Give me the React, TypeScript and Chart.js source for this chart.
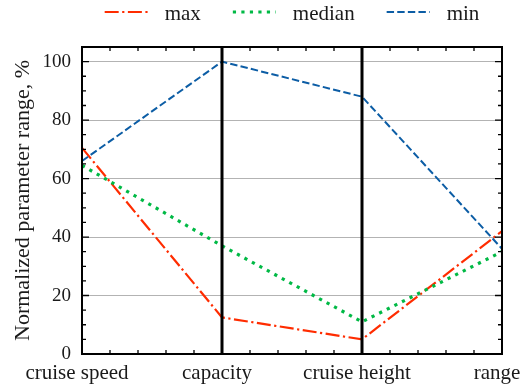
import { useEffect, useRef } from 'react';
import { Chart, registerables } from 'chart.js';

Chart.register(...registerables);

// ---- data ----
const categories = ['cruise speed', 'capacity', 'cruise height', 'range'];
const seriesNames = ['max', 'median', 'min'];
const maxValues = [70.5, 12.5, 5, 42];
const medianValues = [64.5, 37, 11, 35];
const minValues = [66, 100, 88, 36];
const yTickValues = [0, 20, 40, 60, 80, 100];
const yAxisTitle = 'Normalized parameter range, %';

const FONT = "'Liberation Serif', 'DejaVu Serif', serif";
const TEXT = '#1a1a1a';

const framePlugin = {
  id: 'frameTicks',
  afterDatasetsDraw(chart: any) {
    const { ctx, chartArea, scales } = chart;
    const { left, right, top, bottom } = chartArea;
    const x = scales.x;
    const y = scales.y;
    ctx.save();
    ctx.strokeStyle = '#000';
    ctx.lineWidth = 3;
    for (let i = 1; i < categories.length - 1; i++) {
      const px = x.getPixelForValue(i);
      ctx.beginPath();
      ctx.moveTo(px, top);
      ctx.lineTo(px, bottom);
      ctx.stroke();
    }
    ctx.lineWidth = 1.3;
    const yMax = y.max;
    for (let v = 0; v <= yMax + 1e-6; v += 5) {
      const py = y.getPixelForValue(v);
      const len = yTickValues.includes(v) ? 7 : 4;
      ctx.beginPath();
      ctx.moveTo(left, py);
      ctx.lineTo(left + len, py);
      ctx.moveTo(right, py);
      ctx.lineTo(right - len, py);
      ctx.stroke();
    }
    for (let k = 0; k <= (categories.length - 1) * 5; k++) {
      if (k % 5 === 0) continue;
      const px = x.getPixelForValue(k / 5);
      ctx.beginPath();
      ctx.moveTo(px, bottom);
      ctx.lineTo(px, bottom - 4);
      ctx.moveTo(px, top);
      ctx.lineTo(px, top + 4);
      ctx.stroke();
    }
    ctx.lineWidth = 2;
    ctx.strokeRect(left, top, right - left, bottom - top);
    ctx.restore();
  },
};

// legend drawn from the chart's datasets (line samples keep each dataset's dash pattern)
const legendPlugin = {
  id: 'lineLegend',
  afterDraw(chart: any) {
    const { ctx, chartArea } = chart;
    const datasets = chart.data.datasets;
    const lineLen = 43;
    const gap = 17;
    const itemGap = 32;
    const yLine = 12;
    const yText = 20;
    ctx.save();
    ctx.font = `21px ${FONT}`;
    const widths = datasets.map((d: any) => ctx.measureText(d.label).width);
    const total =
      widths.reduce((a: number, b: number) => a + b, 0) +
      datasets.length * (lineLen + gap) +
      (datasets.length - 1) * itemGap;
    let x = (chartArea.left + chartArea.right) / 2 - total / 2;
    datasets.forEach((d: any, i: number) => {
      ctx.save();
      ctx.strokeStyle = d.borderColor;
      ctx.lineWidth = d.borderWidth;
      ctx.setLineDash(d.borderDash || []);
      ctx.beginPath();
      ctx.moveTo(x, yLine);
      ctx.lineTo(x + lineLen, yLine);
      ctx.stroke();
      ctx.restore();
      ctx.fillStyle = TEXT;
      ctx.textAlign = 'left';
      ctx.textBaseline = 'alphabetic';
      ctx.fillText(d.label, x + lineLen + gap, yText);
      x += lineLen + gap + widths[i] + itemGap;
    });
    ctx.restore();
  },
};

export default function App() {
  const ref = useRef<HTMLCanvasElement | null>(null);

  useEffect(() => {
    if (!ref.current) return;
    Chart.defaults.font.family = FONT;
    Chart.defaults.color = TEXT;
    const chart = new Chart(ref.current, {
      type: 'line',
      data: {
        labels: categories,
        datasets: [
          {
            label: seriesNames[0],
            data: maxValues,
            borderColor: '#FF2C00',
            backgroundColor: '#FF2C00',
            borderWidth: 2.2,
            borderDash: [14, 3.5, 2.2, 3.5],
            pointRadius: 0,
            tension: 0,
            fill: false,
            order: 3,
          },
          {
            label: seriesNames[1],
            data: medianValues,
            borderColor: '#00B945',
            backgroundColor: '#00B945',
            borderWidth: 3.2,
            borderDash: [3.2, 5.3],
            pointRadius: 0,
            tension: 0,
            fill: false,
            order: 2,
          },
          {
            label: seriesNames[2],
            data: minValues,
            borderColor: '#0C5DA5',
            backgroundColor: '#0C5DA5',
            borderWidth: 2,
            borderDash: [7.4, 3.2],
            pointRadius: 0,
            tension: 0,
            fill: false,
            order: 1,
          },
        ],
      },
      options: {
        animation: false,
        responsive: false,
        devicePixelRatio: 1,
        layout: { padding: { left: 0, right: 27, top: 47, bottom: 0 } },
        plugins: {
          tooltip: { enabled: false },
          legend: { display: false },
        },
        scales: {
          x: {
            type: 'category',
            offset: false,
            grid: { display: false, drawTicks: false },
            border: { display: false },
            ticks: {
              autoSkip: false,
              maxRotation: 0,
              minRotation: 0,
              padding: 7,
              labelOffset: -5,
              color: TEXT,
              font: { size: 21, family: FONT },
            },
            afterFit: (s: any) => {
              s.height = 33;
              s.paddingLeft = 0;
              s.paddingRight = 0;
            },
          },
          y: {
            type: 'linear',
            min: 0,
            max: 105,
            grid: {
              drawTicks: false,
              lineWidth: 1,
              color: (c: any) => (c.tick && c.tick.value > 0 ? '#b3b3b3' : 'rgba(0,0,0,0)'),
            },
            border: { display: false },
            ticks: {
              stepSize: 20,
              includeBounds: false,
              padding: 11,
              color: TEXT,
              font: { size: 19, family: FONT },
            },
            afterBuildTicks: (s: any) => {
              s.ticks = yTickValues.map((v) => ({ value: v }));
            },
            title: {
              display: true,
              text: yAxisTitle,
              color: TEXT,
              font: { size: 22, family: FONT },
              padding: { top: 10, bottom: 0 },
            },
            afterFit: (s: any) => {
              s.width = 82;
              s.paddingTop = 0;
              s.paddingBottom = 0;
            },
          },
        },
      },
      plugins: [framePlugin, legendPlugin],
    } as any);
    return () => chart.destroy();
  }, []);

  return (
    <div style={{ position: 'absolute', left: 0, top: 0, width: 529, height: 387 }}>
      <canvas ref={ref} width={529} height={387} style={{ display: 'block' }} />
    </div>
  );
}
